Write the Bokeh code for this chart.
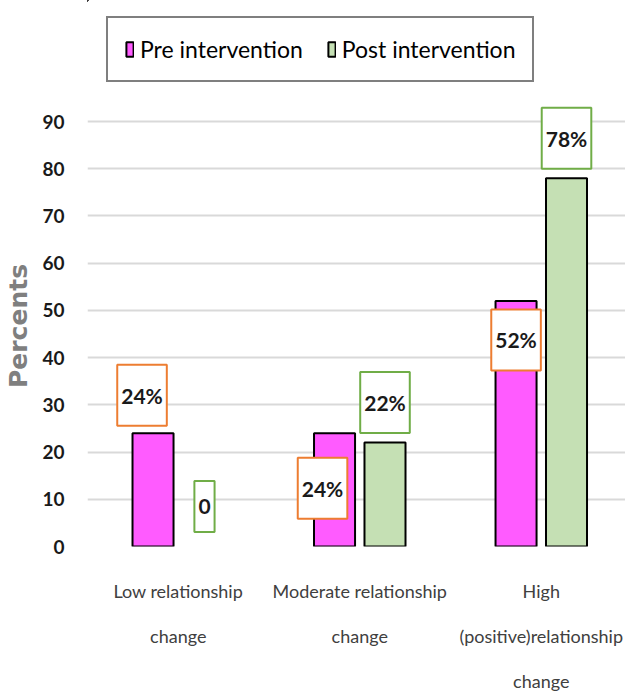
from bokeh.plotting import figure
from bokeh.layouts import column
from bokeh.models import Range1d, FixedTicker, Legend, LegendItem, Label, ColumnDataSource
from bokeh.transform import dodge
from bokeh.embed import file_html
from bokeh.resources import INLINE

# ---- data ----
categories = ["Low relationship\nchange",
              "Moderate relationship\nchange",
              "High\n(positive)relationship\nchange"]
series_names = ["Pre intervention", "Post intervention"]
pre_values = [24, 24, 52]
post_values = [0, 22, 78]
pre_labels = ["24%", "24%", "52%"]
post_labels = ["0", "22%", "78%"]
y_ticks = [0, 10, 20, 30, 40, 50, 60, 70, 80, 90]

# ---- style / layout ----
FONT = "Lato"
PRE_COLOR = "#FF5BFF"
POST_COLOR = "#C5E0B4"
PRE_BORDER = "#ED7D31"
POST_BORDER = "#70AD47"
BAR_W = 0.226
OFF = 0.139
# label offsets in screen px (dx, dy) relative to bar top centre
pre_label_dx = [-11, -12, 0]
pre_label_dy = [38, -55, -39]
post_label_dx = [1, 0, 0]
post_label_dy = [40, 40, 40]

group_x = [i + 0.5 for i in range(len(categories))]

src = ColumnDataSource(dict(
    x=group_x, pre=pre_values, post=post_values,
    pre_line=["black" if v > 0 else None for v in pre_values],
    post_line=["black" if v > 0 else None for v in post_values],
))

# ---------- main chart ----------
p = figure(width=625, height=595, output_backend="svg", toolbar_location=None,
           x_range=Range1d(0, 2.964), y_range=Range1d(0, 93.4),
           min_border_left=87, min_border_right=0, min_border_top=5,
           min_border_bottom=148)
p.outline_line_color = None
p.background_fill_color = "white"

p.vbar(x=dodge("x", -OFF), top="pre", width=BAR_W, source=src,
       fill_color=PRE_COLOR, line_color="pre_line", line_width=2)
p.vbar(x=dodge("x", OFF), top="post", width=BAR_W, source=src,
       fill_color=POST_COLOR, line_color="post_line", line_width=2)

pad = dict(left=4, right=4, top=18, bottom=18)
for gx, v, t, dx, dy in zip(group_x, pre_values, pre_labels, pre_label_dx, pre_label_dy):
    p.add_layout(Label(x=gx - OFF, y=v, x_offset=dx, y_offset=dy, text=t,
                       text_align="center", text_baseline="middle",
                       text_font=FONT, text_font_size="21px", text_font_style="bold",
                       text_color="#1a1a1a", background_fill_color="white",
                       border_line_color=PRE_BORDER, border_line_width=2, padding=pad))
for gx, v, t, dx, dy in zip(group_x, post_values, post_labels, post_label_dx, post_label_dy):
    p.add_layout(Label(x=gx + OFF, y=v, x_offset=dx, y_offset=dy, text=t,
                       text_align="center", text_baseline="middle",
                       text_font=FONT, text_font_size="21px", text_font_style="bold",
                       text_color="#1a1a1a", background_fill_color="white",
                       border_line_color=POST_BORDER, border_line_width=2, padding=pad))

# y axis
p.yaxis.ticker = FixedTicker(ticks=y_ticks)
p.yaxis.axis_line_color = None
p.yaxis.major_tick_line_color = None
p.yaxis.minor_tick_line_color = None
p.yaxis.major_label_text_font = FONT
p.yaxis.major_label_text_font_size = "19px"
p.yaxis.major_label_text_font_style = "bold"
p.yaxis.major_label_text_color = "#1a1a1a"
p.yaxis.major_label_standoff = 17
p.yaxis.axis_label = "Percents"
p.yaxis.axis_label_text_font = "DejaVu Sans"
p.yaxis.axis_label_text_font_style = "bold"
p.yaxis.axis_label_text_font_size = "25px"
p.yaxis.axis_label_text_color = "#7f7f7f"
p.yaxis.axis_label_standoff = 6

p.ygrid.grid_line_color = "#d9d9d9"
p.ygrid.grid_line_width = 2
p.xgrid.grid_line_color = None

# x axis
p.xaxis.ticker = FixedTicker(ticks=group_x)
p.xaxis.major_label_overrides = {gx: c for gx, c in zip(group_x, categories)}
p.xaxis.axis_line_color = None
p.xaxis.major_tick_line_color = None
p.xaxis.minor_tick_line_color = None
p.xaxis.major_label_text_font = FONT
p.xaxis.major_label_text_font_size = "18px"
p.xaxis.major_label_text_color = "#404040"
p.xaxis.major_label_text_line_height = 2.06
p.xaxis.major_label_standoff = 27

# ---------- legend strip (same series, kept outside its visible range) ----------
lp = figure(width=625, height=100, output_backend="svg", toolbar_location=None,
            x_range=Range1d(100, 101), y_range=Range1d(-1000, -900),
            x_axis_location=None, y_axis_location=None,
            min_border_left=0, min_border_right=0, min_border_top=0, min_border_bottom=0)
lp.outline_line_color = None
lp.xgrid.grid_line_color = None
lp.ygrid.grid_line_color = None
l_pre = lp.vbar(x=dodge("x", -OFF), top="pre", width=BAR_W, source=src,
                fill_color=PRE_COLOR, line_color="black", line_width=2)
l_post = lp.vbar(x=dodge("x", OFF), top="post", width=BAR_W, source=src,
                 fill_color=POST_COLOR, line_color="black", line_width=2)
legend = Legend(items=[LegendItem(label=series_names[0], renderers=[l_pre]),
                       LegendItem(label=series_names[1], renderers=[l_post])],
                orientation="horizontal", location=(19, 18),
                glyph_width=9, glyph_height=18, label_standoff=6, spacing=24,
                padding=17, label_text_font=FONT, label_text_font_size="23px",
                label_text_color="#000000",
                border_line_color="black", border_line_width=2,
                background_fill_color="white", background_fill_alpha=1)
lp.add_layout(legend)

layout = column(lp, p, spacing=0)
open("out.html", "w").write(file_html(layout, INLINE))
